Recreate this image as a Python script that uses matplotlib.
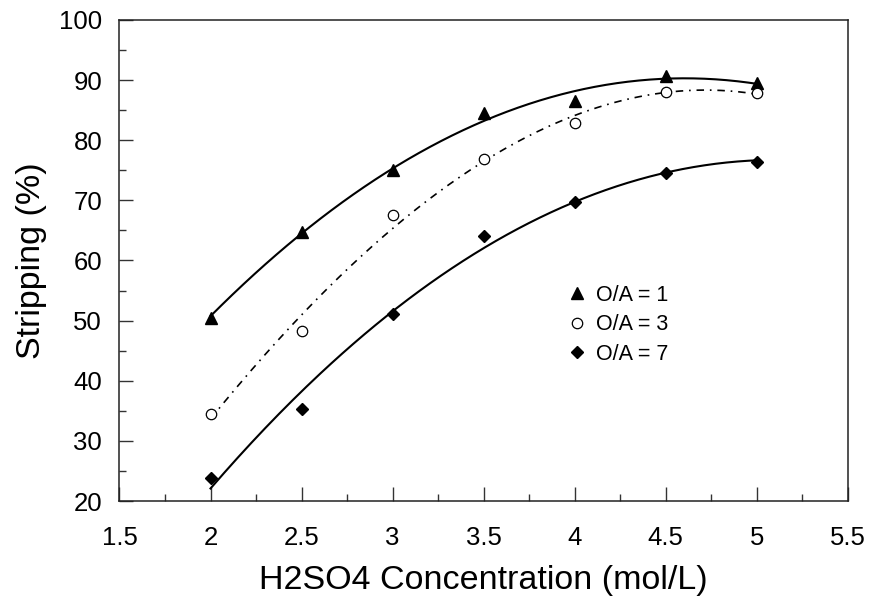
import matplotlib
matplotlib.use("Agg")
import matplotlib.pyplot as plt
import numpy as np
from matplotlib.ticker import MultipleLocator

plt.rcParams['font.family'] = ['Liberation Sans', 'DejaVu Sans']

# Datos
conc = [2, 2.5, 3, 3.5, 4, 4.5, 5]
oa1 = [50.5, 64.8, 75.0, 84.5, 86.5, 90.7, 89.5]
oa3 = [34.5, 48.3, 67.6, 76.9, 82.9, 88.1, 87.8]
oa7 = [23.8, 35.3, 51.1, 64.1, 69.7, 74.6, 76.3]

fig = plt.figure(figsize=(8.69, 5.98), dpi=100)
ax = fig.add_axes([0.1375, 0.1622, 0.838, 0.8044])

# Curvas de tendencia (ajuste polinomial de los puntos)
xs = np.linspace(2, 5, 200)
for y, grado, estilo in [(oa1, 2, dict(ls='-', lw=1.5)),
                         (oa3, 3, dict(ls=(0, (4.5, 3.5, 1, 3.5)), lw=1.2)),
                         (oa7, 2, dict(ls='-', lw=1.5))]:
    coef = np.polyfit(conc, y, grado)
    ax.plot(xs, np.polyval(coef, xs), color='black', **estilo)

# Puntos experimentales
ax.plot(conc, oa1, ls='none', marker='^', ms=8, color='black', label='O/A = 1')
ax.plot(conc, oa3, ls='none', marker='o', ms=7.5, mfc='white', mec='black',
        mew=0.9, label='O/A = 3')
ax.plot(conc, oa7, ls='none', marker='D', ms=6, color='black', label='O/A = 7')

ax.set_xlim(1.5, 5.5)
ax.set_ylim(20, 100)
ax.xaxis.set_major_locator(MultipleLocator(0.5))
ax.xaxis.set_minor_locator(MultipleLocator(0.25))
ax.yaxis.set_major_locator(MultipleLocator(10))
ax.yaxis.set_minor_locator(MultipleLocator(5))
ax.set_xticklabels([f'{v:g}' for v in ax.get_xticks()])
ax.tick_params(which='both', direction='in', top=False, right=False,
               labelsize=18.5, width=1.0, color='#333333')
ax.tick_params(which='major', length=10)
ax.tick_params(which='minor', length=5)
ax.tick_params(axis='x', which='major', pad=18)
ax.tick_params(axis='y', which='major', pad=12.5)
for s in ax.spines.values():
    s.set_linewidth(1.1)
    s.set_color('#222222')

ax.set_xlabel('H2SO4 Concentration (mol/L)', fontsize=24.5, labelpad=11)
ax.set_ylabel('Stripping (%)', fontsize=24.5, labelpad=9)

ax.legend(loc='upper left', bbox_to_anchor=(0.584, 0.49), frameon=False,
          fontsize=15.5, handletextpad=0.3, handlelength=1.2, labelspacing=0.4)

fig.savefig('out.png', dpi=100)
